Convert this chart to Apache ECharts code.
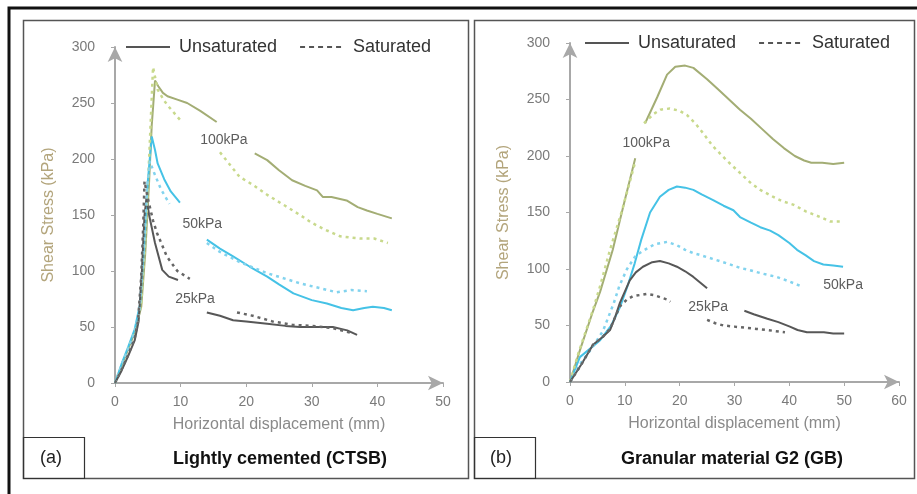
<!DOCTYPE html>
<html>
<head>
<meta charset="utf-8">
<script src="https://cdn.jsdelivr.net/npm/echarts@6/dist/echarts.min.js"></script>
<style>
html,body{margin:0;padding:0;background:#fff;}
#chart{position:absolute;left:0;top:0;width:917px;height:494px;}
</style>
</head>
<body>
<div id="chart"></div>
<script>
// ---------- DATA ----------
// Panel (a): Lightly cemented (CTSB) — [displacement mm, shear stress kPa]
const ctsb100U = [[0,0],[1,15],[2,30],[3,45],[4,68],[4.6,115],[5.2,180],[5.6,230],[6.1,270],[6.6,265],[7.3,259],[8,256],[9.5,253],[11,250],[13,243],[15.5,233],['-','-'],[21.3,205],[23.2,199],[25,190],[27,181],[29,176],[30.8,172],[31.7,166],[33,166],[35.3,163],[37,157],[38.4,154],[40,151],[42.2,147]];
const ctsb100S = [[0,0],[1,15],[2,30],[3,45],[4,70],[4.6,125],[5.2,200],[5.8,282],[6.5,262],[7.5,252],[8.3,246],[10.2,233],['-','-'],[16,206],[19,184],[21,177],[23.2,168],[26,158],[28.2,150],[30,143],[32,137],[34.3,131],[37.3,129],[39.5,129],[41.6,125]];
const ctsb50U = [[0,0],[1,17],[2,32],[3,48],[3.8,70],[4.4,120],[5,180],[5.6,220],[6.1,208],[6.5,196],[7.5,182],[8.5,171],[9.9,161],['-','-'],[14,128],[16,120],[18,113],[20.5,104],[23.2,95],[25,88],[27.2,80],[30,74],[32.3,71],[34.5,67],[36.3,65],[38,67],[39.3,68],[41,67],[42.2,65]];
const ctsb50S = [[0,0],[1,16],[2,30],[3,45],[3.8,68],[4.4,118],[4.9,175],[5.3,198],[5.8,190],[7,173],[8.3,160],['-','-'],[14,125],[16,117],[19,108],[23.2,98],[26,93],[28.2,89],[31,85],[33.8,81],[36,83],[38.4,82]];
const ctsb25U = [[0,0],[1,11],[2,24],[3,38],[3.6,55],[4.1,100],[4.5,150],[4.8,165],[5.2,150],[6.1,125],[7.2,101],[8.2,95],[9.6,92],['-','-'],[14,63],[16,60],[18,56],[20,55],[23.2,53],[26,51],[28.2,50],[31,50],[33.2,50],[35.4,47],[36.9,43]];
const ctsb25S = [[0,0],[1,12],[2,25],[3,40],[3.5,55],[4,95],[4.3,140],[4.5,180],[5,165],[5.8,145],[6.4,134],[7.9,113],[9.5,100],[11.4,93],['-','-'],[18.6,63],[21,60],[24,55],[27,52],[30,51],[33.2,49],[35.8,45]];

// Panel (b): Granular material G2 (GB)
const gb100U = [[0,0],[1.8,28],[4,60],[5.5,80],[7.8,117],[10,161],[11.9,198],['-','-'],[13.7,229],[15.9,252],[17.7,272],[19.2,279],[21,280],[22.5,278],[25,268],[27,259],[29,250],[31,241],[33,233],[35,224],[37,215],[39,207],[41,200],[42.7,196],[44,194],[46,194],[48,193],[50,194]];
const gb100S = [[0,0],[1.5,25],[4.2,64],[5.5,85],[7.3,117],[9.5,152],[11.9,195],['-','-'],[13.5,229],[15.2,237],[16.5,241],[18.2,242],[20,240],[21.4,236],[23,228],[24.3,220],[26,209],[28.6,196],[31,185],[33,176],[34.7,170],[37,164],[38.7,160],[40.7,157],[43,151],[45.6,146],[47.5,142],[49.8,142]];
const gb50U = [[0,0],[1.8,22],[5.5,37],[7.5,50],[9.1,66],[10.5,85],[11.8,105],[13,126],[14.6,150],[16.4,164],[18,170],[19.5,173],[21,172],[22.5,170],[24,166],[26.1,161],[28,156],[29.8,152],[31,146],[33,141],[34.7,137],[36.5,134],[38,130],[40,123],[41.4,117],[43,112],[44.5,107],[46.2,104],[48,103],[49.8,102]];
const gb50S = [[0,0],[2,17],[4,30],[6,45],[8,70],[9,85],[10.4,100],[12,112],[14,118],[15.5,122],[17.7,124],[19.5,121],[21,117],[22.5,114],[24,112],[26,109],[28.6,105],[31,101],[32.8,99],[35,96],[37.7,93],[40,89],[42.5,84]];
const gb25U = [[0,0],[2,15],[4.2,33],[6,40],[7.3,46],[8.2,57],[9.1,70],[10,80],[10.9,90],[12,97],[13.3,102],[15,106],[16.4,107],[18,105],[19.5,102],[21,98],[22.5,93],[24,87],[25,83],['-','-'],[31.8,63],[33.5,60],[36,56],[38,53],[40.1,49],[41.5,46],[43.2,44],[45,44],[46.3,44],[48,43],[50,43]];
const gb25S = [[0,0],[2,15],[4.2,33],[6,40],[7.3,47],[8.2,57],[9.1,67],[10.4,73],[11.5,76],[12.8,77],[14,78],[15.2,77],[16.5,75],[17.7,73],[18.3,71],['-','-'],[25,55],[26.5,52],[28,50],[30,49],[32,48],[34,47],[36,46],[37.5,45],[39.2,44]];

// Curve annotations [x, y, text]
const labelsA = [[16.6,217,'100kPa'],[13.3,142,'50kPa'],[12.2,75,'25kPa']];
const labelsB = [[13.9,211,'100kPa'],[49.8,86,'50kPa'],[25.2,66,'25kPa']];

// Axis settings
const xMaxA = 50, xMaxB = 60, xStep = 10;
const yMax = 300, yStep = 50;
const legendNames = ['Unsaturated','Saturated'];
const panelTitles = ['Lightly cemented (CTSB)','Granular material G2 (GB)'];
const panelTags = ['(a)','(b)'];

// ---------- STYLE ----------
const C100U = '#a3ad74', C100S = '#c8d98c';
const C50U = '#45c2e6', C50S = '#82d3ee';
const C25U = '#575757', C25S = '#666666';
const DOT = [3,4];

function line(name, data, idx, color, dotted){
  return {
    type:'line', name:name, data:data, xAxisIndex:idx, yAxisIndex:idx,
    showSymbol:false, symbol:'none', connectNulls:false, silent:true,
    lineStyle:{color:color, width: dotted?2.5:2, type: dotted?DOT:'solid'},
    z: dotted?3:2
  };
}
function annot(data, idx){
  return {
    type:'scatter', xAxisIndex:idx, yAxisIndex:idx, data:data,
    symbolSize:1, itemStyle:{color:'transparent'}, silent:true, z:10,
    label:{show:true, position:'inside', formatter:p=>p.value[2],
      color:'#333', fontSize:14, fontFamily:'Liberation Sans'}
  };
}
function xAxis(idx, max){
  return {
    type:'value', gridIndex:idx, min:0, max:max, interval:xStep,
    name:'Horizontal displacement (mm)', nameLocation:'middle', nameGap:34,
    nameTextStyle:{color:'#8a8a8a', fontSize:16, fontFamily:'Liberation Sans'},
    splitLine:{show:false},
    axisLine:{lineStyle:{color:'#a8a8a8', width:2}, symbol:['none','arrow'], symbolSize:[11,15]},
    axisTick:{show:true, length:4, lineStyle:{color:'#a8a8a8'}},
    axisLabel:{color:'#7a7a7a', fontSize:14, fontFamily:'Liberation Sans', margin:12}
  };
}
function yAxis(idx){
  return {
    type:'value', gridIndex:idx, min:0, max:yMax, interval:yStep,
    name:'Shear Stress (kPa)', nameLocation:'middle', nameGap:58,
    nameTextStyle:{color:'#b3a57c', fontSize:16, fontFamily:'Liberation Sans'},
    splitLine:{show:false},
    axisLine:{show:true, lineStyle:{color:'#a8a8a8', width:2}, symbol:['none','arrow'], symbolSize:[11,15]},
    axisTick:{show:true, length:4, lineStyle:{color:'#a8a8a8'}},
    axisLabel:{color:'#7a7a7a', fontSize:14, fontFamily:'Liberation Sans', margin:20}
  };
}
function legend(left, top){
  return {
    left:left, top:top, data:legendNames, selectedMode:false,
    itemWidth:44, itemHeight:14, itemGap:22,
    itemStyle:{opacity:0},
    textStyle:{color:'#333', fontSize:18, fontFamily:'Liberation Sans', padding:[0,0,0,4]}
  };
}
function dummy(idx){
  return [
    {type:'line', name:legendNames[0], data:[], xAxisIndex:idx, yAxisIndex:idx, symbol:'none', showSymbol:false,
      lineStyle:{color:'#555', width:2, type:'solid'}, itemStyle:{color:'#555'}},
    {type:'line', name:legendNames[1], data:[], xAxisIndex:idx, yAxisIndex:idx, symbol:'none', showSymbol:false,
      lineStyle:{color:'#555', width:2, type:[5,4]}, itemStyle:{color:'#555'}}
  ];
}

const chart = echarts.init(document.getElementById('chart'), null, {renderer:'canvas'});
chart.setOption({
  backgroundColor:'#ffffff',
  animation:false,
  grid:[
    {left:115, top:47, width:328, height:336},
    {left:570, top:43, width:329, height:339}
  ],
  xAxis:[xAxis(0,xMaxA), xAxis(1,xMaxB)],
  yAxis:[yAxis(0), yAxis(1)],
  legend:[legend(120,33), legend(579,29)],
  series:[
    ...dummy(0), ...dummy(1),
    line('100U', ctsb100U, 0, C100U, false),
    line('100S', ctsb100S, 0, C100S, true),
    line('50U', ctsb50U, 0, C50U, false),
    line('50S', ctsb50S, 0, C50S, true),
    line('25U', ctsb25U, 0, C25U, false),
    line('25S', ctsb25S, 0, C25S, true),
    line('100U', gb100U, 1, C100U, false),
    line('100S', gb100S, 1, C100S, true),
    line('50U', gb50U, 1, C50U, false),
    line('50S', gb50S, 1, C50S, true),
    line('25U', gb25U, 1, C25U, false),
    line('25S', gb25S, 1, C25S, true),
    annot(labelsA, 0), annot(labelsB, 1)
  ],
  graphic:[
    {type:'rect', shape:{x:9, y:8, width:930, height:500}, style:{fill:null, stroke:'#111', lineWidth:3}, silent:true},
    {type:'rect', shape:{x:23.5, y:20.5, width:445, height:458}, style:{fill:null, stroke:'#555', lineWidth:1.5}, silent:true},
    {type:'rect', shape:{x:474.5, y:20.5, width:440, height:458}, style:{fill:null, stroke:'#555', lineWidth:1.5}, silent:true},
    {type:'rect', shape:{x:23.5, y:437.5, width:61, height:41}, style:{fill:null, stroke:'#333', lineWidth:1.2}, silent:true},
    {type:'rect', shape:{x:474.5, y:437.5, width:61, height:41}, style:{fill:null, stroke:'#333', lineWidth:1.2}, silent:true},
    {type:'text', left:40, top:449, style:{text:panelTags[0], fill:'#222', font:'18px "Liberation Sans"'}},
    {type:'text', left:490, top:449, style:{text:panelTags[1], fill:'#222', font:'18px "Liberation Sans"'}},
    {type:'text', x:280, y:459, style:{text:panelTitles[0], fill:'#111', font:'bold 18px "Liberation Sans"', align:'center', verticalAlign:'middle'}},
    {type:'text', x:732, y:459, style:{text:panelTitles[1], fill:'#111', font:'bold 18px "Liberation Sans"', align:'center', verticalAlign:'middle'}}
  ]
});
</script>
</body>
</html>
